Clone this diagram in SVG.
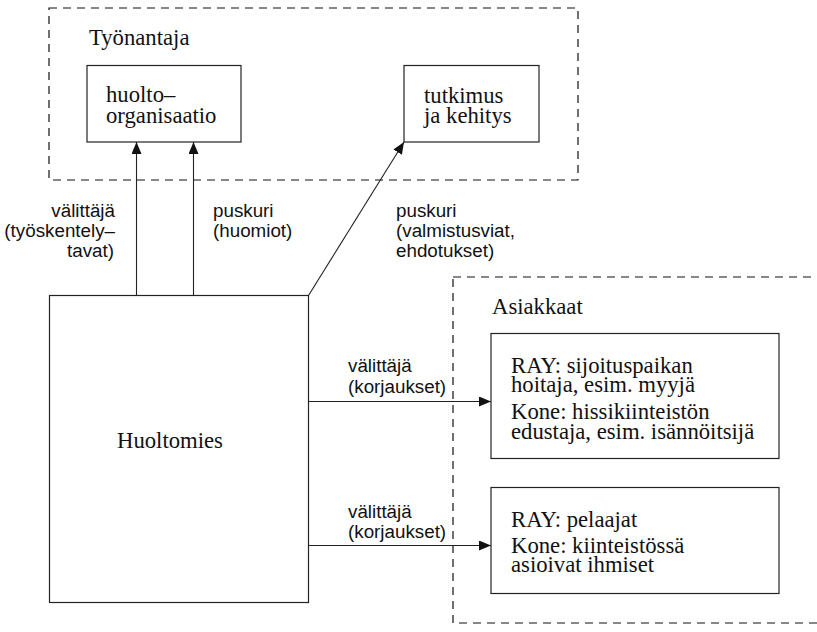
<svg xmlns="http://www.w3.org/2000/svg" width="817" height="632" viewBox="0 0 817 632">
  <style>
    .box { fill: none; stroke: #222; stroke-width: 1.2; }
    .group { fill: none; stroke: #111; stroke-width: 1.2; stroke-dasharray: 8 6; }
    .edge { fill: none; stroke: #222; stroke-width: 1.1; }
    .serif { font-family: "Liberation Serif", "Times New Roman", serif; font-size: 22.7px; fill: #111; }
    .sans { font-family: "Liberation Sans", Arial, sans-serif; font-size: 18.8px; fill: #111; }
  </style>
  <defs>
    <marker id="arrow" viewBox="0 0 12 10" refX="12" refY="5" markerWidth="12" markerHeight="10" markerUnits="userSpaceOnUse" orient="auto">
      <path d="M0,0 L12,5 L0,10 Z" fill="#111"/>
    </marker>
  </defs>

  <rect x="0" y="0" width="817" height="632" fill="#fff"/>

  <!-- Employer group -->
  <g id="tyonantaja">
    <rect class="group" x="49" y="8" width="529" height="172"/>
    <text class="serif" x="89" y="45">Työnantaja</text>
  </g>

  <g id="huolto-organisaatio">
    <rect class="box" x="87" y="65.5" width="154" height="76.5"/>
    <text class="serif" x="106" y="102">huolto–</text>
    <text class="serif" x="106" y="123">organisaatio</text>
  </g>

  <g id="tutkimus">
    <rect class="box" x="404" y="65.5" width="135" height="76.5"/>
    <text class="serif" x="424" y="103">tutkimus</text>
    <text class="serif" x="424" y="123">ja kehitys</text>
  </g>

  <!-- Customer group -->
  <g id="asiakkaat">
    <rect class="group" x="453" y="277" width="380" height="346"/>
    <text class="serif" x="492" y="314">Asiakkaat</text>
  </g>

  <g id="ray-sijoituspaikka">
    <rect class="box" x="491" y="333.5" width="288" height="125"/>
    <text class="serif" x="511" y="372.5">RAY: sijoituspaikan</text>
    <text class="serif" x="511" y="391.5">hoitaja, esim. myyjä</text>
    <text class="serif" x="511" y="418.5">Kone: hissikiinteistön</text>
    <text class="serif" x="511" y="438.5">edustaja, esim. isännöitsijä</text>
  </g>

  <g id="ray-pelaajat">
    <rect class="box" x="491" y="487.5" width="288" height="106"/>
    <text class="serif" x="511" y="527">RAY: pelaajat</text>
    <text class="serif" x="511" y="553">Kone: kiinteistössä</text>
    <text class="serif" x="511" y="572">asioivat ihmiset</text>
  </g>

  <g id="huoltomies">
    <rect class="box" x="49.5" y="295.5" width="259" height="307"/>
    <text class="serif" x="117" y="448">Huoltomies</text>
  </g>

  <!-- Connectors -->
  <g id="connectors">
    <line class="edge" x1="136.5" y1="295.5" x2="136.5" y2="142" marker-end="url(#arrow)" stroke="#555" stroke-width="1.4"/>
    <line class="edge" x1="193.5" y1="295.5" x2="193.5" y2="142" marker-end="url(#arrow)"/>
    <line class="edge" x1="308.5" y1="295.5" x2="404" y2="142" marker-end="url(#arrow)"/>
    <line class="edge" x1="308.5" y1="401.5" x2="491" y2="401.5" marker-end="url(#arrow)"/>
    <line class="edge" x1="308.5" y1="545.5" x2="491" y2="545.5" marker-end="url(#arrow)"/>

    <text class="sans" text-anchor="end" x="115" y="217">välittäjä</text>
    <text class="sans" text-anchor="end" x="115" y="237">(työskentely–</text>
    <text class="sans" text-anchor="end" x="114" y="257">tavat)</text>

    <text class="sans" x="213" y="217">puskuri</text>
    <text class="sans" x="213" y="237">(huomiot)</text>

    <text class="sans" x="396" y="217">puskuri</text>
    <text class="sans" x="396" y="237">(valmistusviat,</text>
    <text class="sans" x="396" y="257">ehdotukset)</text>

    <text class="sans" x="348" y="372">välittäjä</text>
    <text class="sans" x="348" y="393">(korjaukset)</text>

    <text class="sans" x="348" y="518">välittäjä</text>
    <text class="sans" x="348" y="538">(korjaukset)</text>
  </g>
</svg>
